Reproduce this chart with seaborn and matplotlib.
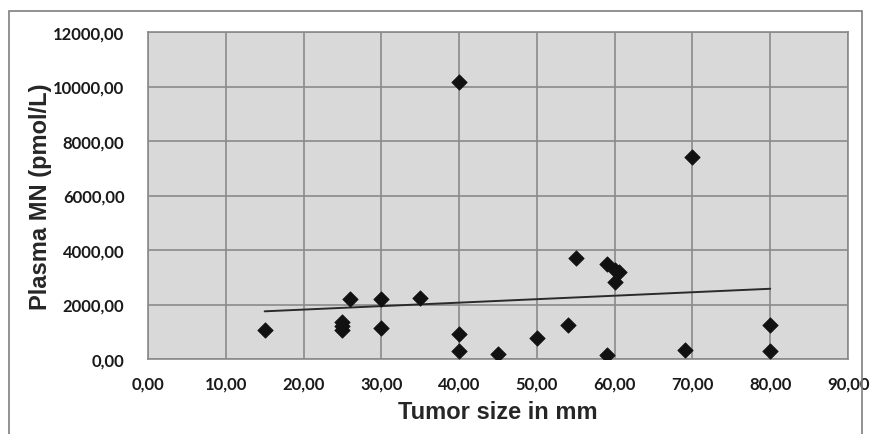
import matplotlib
matplotlib.use("Agg")
import matplotlib.pyplot as plt
import seaborn as sns
import numpy as np
import pandas as pd
from matplotlib.patches import Rectangle

tumor_size = [15, 25, 25, 25, 26, 30, 30, 35, 40, 40, 40, 45, 50, 54, 55, 59, 60, 60.5, 60, 59, 69, 70, 80, 80]
plasma_mn = [1050, 1350, 1200, 1080, 2200, 2200, 1120, 2250, 10150, 920, 290, 170, 780, 1230, 3720, 3480, 3250, 3180, 2830, 140, 330, 7400, 1230, 280]

x_ticks = [0, 10, 20, 30, 40, 50, 60, 70, 80, 90]
y_ticks = [0, 2000, 4000, 6000, 8000, 10000, 12000]

df = pd.DataFrame({"Tumor size in mm": tumor_size, "Plasma MN (pmol/L)": plasma_mn})

sns.set_theme(style="white")
fig = plt.figure(figsize=(8.75, 4.35), dpi=100)
ax = fig.add_axes([148 / 875, 1 - 360 / 435, 700 / 875, 327 / 435])
ax.set_facecolor("#d9d9d9")

sns.regplot(data=df, x="Tumor size in mm", y="Plasma MN (pmol/L)", ax=ax,
            ci=None, truncate=True, scatter=False,
            line_kws=dict(color="#2a2a2a", lw=1.4, zorder=3))
sns.scatterplot(data=df, x="Tumor size in mm", y="Plasma MN (pmol/L)", ax=ax,
                marker="D", s=62, color="#111111", edgecolor="#111111", linewidth=0.5, zorder=4)

ax.set_xlim(0, 90)
ax.set_ylim(0, 12000)
ax.set_xticks(x_ticks)
ax.set_yticks(y_ticks)
ax.set_xticklabels([f"{v:.2f}".replace(".", ",") for v in x_ticks],
                   fontsize=12, fontfamily="Lato", fontweight="bold", color="#1a1a1a")
ax.set_yticklabels([f"{v:.2f}".replace(".", ",") for v in y_ticks],
                   fontsize=12, fontfamily="Lato", fontweight="bold", color="#1a1a1a")
ax.tick_params(axis="x", length=0, pad=12)
ax.tick_params(axis="y", length=0, pad=17)
ax.grid(True, color="#8a8a8a", lw=1.2)
ax.set_axisbelow(True)
for s in ax.spines.values():
    s.set_color("#8a8a8a")
    s.set_linewidth(1.2)

ax.set_xlabel("Tumor size in mm", fontsize=17, fontweight="bold", fontfamily="Liberation Sans", labelpad=6)
ax.set_ylabel("Plasma MN (pmol/L)", fontsize=17, fontweight="bold", fontfamily="Liberation Sans", labelpad=1)

fig.patches.append(Rectangle((9 / 875, -0.01), 853 / 875, 1 - 12 / 435 + 0.01,
                             transform=fig.transFigure, fill=False,
                             edgecolor="#7f7f7f", lw=1.2, zorder=0))

fig.savefig("out.png", dpi=100)
